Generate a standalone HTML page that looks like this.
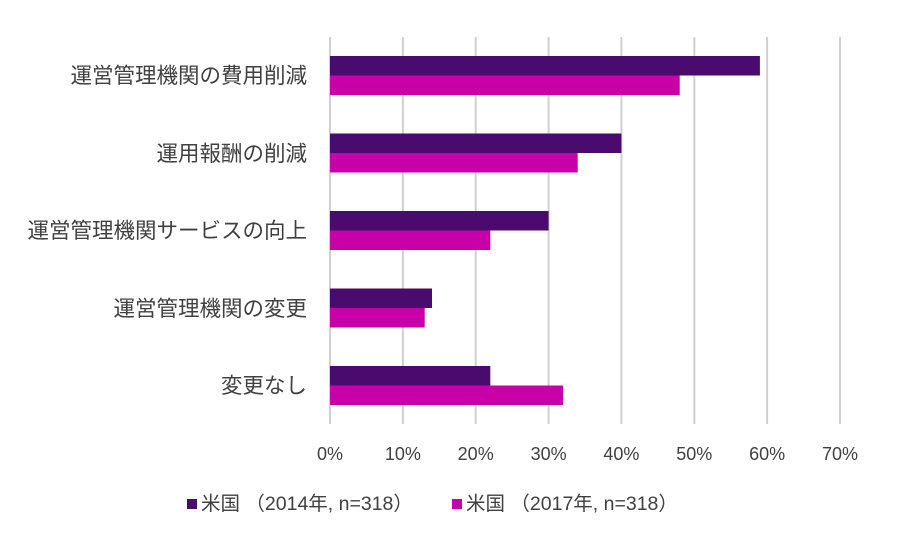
<!DOCTYPE html>
<html><head><meta charset="utf-8"><style>
html,body{margin:0;padding:0;background:#fff;}
svg{display:block;font-family:"Liberation Sans","Noto Sans CJK JP",sans-serif;}
</style></head><body>
<svg width="900" height="555" viewBox="0 0 900 555" xmlns="http://www.w3.org/2000/svg">
<rect width="900" height="555" fill="#fff"/>
<g stroke="#d0d0d0" stroke-width="2">
<line x1="330" y1="37" x2="330" y2="424"/>
<line x1="402.9" y1="37" x2="402.9" y2="424"/>
<line x1="475.7" y1="37" x2="475.7" y2="424"/>
<line x1="548.6" y1="37" x2="548.6" y2="424"/>
<line x1="621.4" y1="37" x2="621.4" y2="424"/>
<line x1="694.3" y1="37" x2="694.3" y2="424"/>
<line x1="767.1" y1="37" x2="767.1" y2="424"/>
<line x1="840" y1="37" x2="840" y2="424"/>
</g>
<g fill="#4b0a6e">
<rect x="330" y="56" width="429.9" height="19.5"/>
<rect x="330" y="133.5" width="291.4" height="19.5"/>
<rect x="330" y="211" width="218.6" height="19.5"/>
<rect x="330" y="288.5" width="102" height="19.5"/>
<rect x="330" y="366" width="160.3" height="19.5"/>
</g>
<g fill="#c800a8">
<rect x="330" y="75.5" width="349.7" height="19.5"/>
<rect x="330" y="153" width="247.7" height="19.5"/>
<rect x="330" y="230.5" width="160.3" height="19.5"/>
<rect x="330" y="308" width="94.7" height="19.5"/>
<rect x="330" y="385.5" width="233.1" height="19.5"/>
</g>
<g font-size="21.5" fill="#404040" text-anchor="end">
<text x="307" y="83">運営管理機関の費用削減</text>
<text x="307" y="161">運用報酬の削減</text>
<text x="307" y="238">運営管理機関サービスの向上</text>
<text x="307" y="316">運営管理機関の変更</text>
<text x="307" y="393">変更なし</text>
</g>
<g font-size="18" fill="#404040" text-anchor="middle">
<text x="330" y="460">0%</text>
<text x="402.9" y="460">10%</text>
<text x="475.7" y="460">20%</text>
<text x="548.6" y="460">30%</text>
<text x="621.4" y="460">40%</text>
<text x="694.3" y="460">50%</text>
<text x="767.1" y="460">60%</text>
<text x="840" y="460">70%</text>
</g>
<rect x="187" y="499" width="10" height="10" fill="#4b0a6e"/>
<text x="201" y="510" font-size="19.5" fill="#404040">米国 （2014年, n=318）</text>
<rect x="452" y="499" width="10" height="10" fill="#c800a8"/>
<text x="466" y="510" font-size="19.5" fill="#404040">米国 （2017年, n=318）</text>
</svg>
</body></html>
